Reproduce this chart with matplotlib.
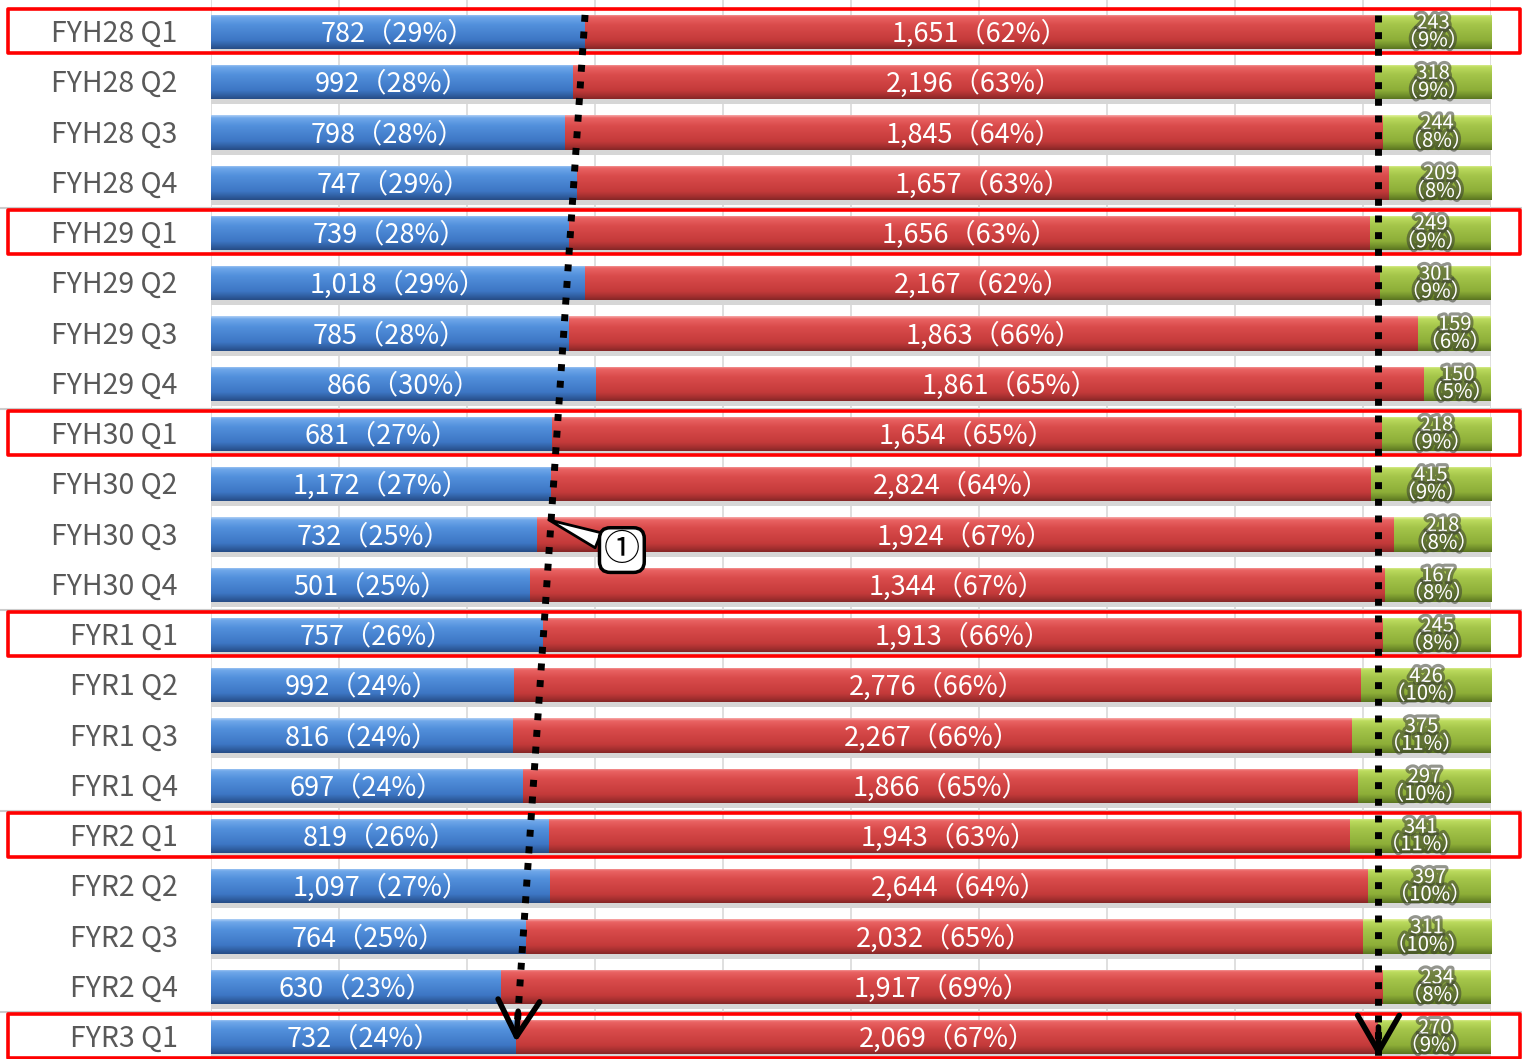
import matplotlib
matplotlib.use("Agg")
import numpy as np
import matplotlib.pyplot as plt
import matplotlib.transforms as mtransforms
import matplotlib.patheffects as pe
from matplotlib.colors import LinearSegmentedColormap
from matplotlib.patches import Rectangle
from matplotlib.lines import Line2D

plt.rcParams['font.family'] = ['Noto Sans CJK JP', 'DejaVu Sans']

categories = ["FYH28 Q1", "FYH28 Q2", "FYH28 Q3", "FYH28 Q4",
              "FYH29 Q1", "FYH29 Q2", "FYH29 Q3", "FYH29 Q4",
              "FYH30 Q1", "FYH30 Q2", "FYH30 Q3", "FYH30 Q4",
              "FYR1 Q1", "FYR1 Q2", "FYR1 Q3", "FYR1 Q4",
              "FYR2 Q1", "FYR2 Q2", "FYR2 Q3", "FYR2 Q4",
              "FYR3 Q1"]
blue_vals = [782, 992, 798, 747, 739, 1018, 785, 866, 681, 1172, 732, 501,
             757, 992, 816, 697, 819, 1097, 764, 630, 732]
red_vals = [1651, 2196, 1845, 1657, 1656, 2167, 1863, 1861, 1654, 2824, 1924, 1344,
            1913, 2776, 2267, 1866, 1943, 2644, 2032, 1917, 2069]
green_vals = [243, 318, 244, 209, 249, 301, 159, 150, 218, 415, 218, 167,
              245, 426, 375, 297, 341, 397, 311, 234, 270]

b = np.array(blue_vals, float)
r = np.array(red_vals, float)
g = np.array(green_vals, float)
tot = b + r + g
fb, fr, fg = b / tot, r / tot, g / tot
n = len(categories)
y = np.arange(n)

W, H = 1522, 1059
fig = plt.figure(figsize=(W / 100, H / 100), dpi=100)
ax = fig.add_axes([211 / W, 0, 1280 / W, 1])

BH = 0.68


def pct(v):
    return int(np.floor(v * 100 + 0.5))


def grad_fill(patches, stops):
    cmap = LinearSegmentedColormap.from_list("g", stops)
    arr = np.linspace(0, 1, 256).reshape(-1, 1)
    for p in patches:
        x0, y0 = p.get_x(), p.get_y()
        w, h = p.get_width(), p.get_height()
        im = ax.imshow(arr, cmap=cmap, extent=[x0, x0 + w, y0 + h, y0],
                       aspect="auto", origin="upper", zorder=2.5,
                       interpolation="bilinear")
        im.set_clip_path(p)


# shadows
ax.barh(y + 0.1, np.ones(n), height=BH, color="#d6d6d6", zorder=1)

bars_b = ax.barh(y, fb, height=BH, color="#4a86d2", zorder=2)
bars_r = ax.barh(y, fr, left=fb, height=BH, color="#d04444", zorder=2)
bars_g = ax.barh(y, fg, left=fb + fr, height=BH, color="#98b840", zorder=2)

grad_fill(bars_b, [(0, "#b0d0f5"), (0.08, "#70a8ea"), (0.3, "#5290dc"),
                   (0.75, "#3d76c4"), (0.9, "#2f5d9f"), (1, "#264c85")])
grad_fill(bars_r, [(0, "#f8aaaa"), (0.08, "#ea6464"), (0.3, "#da4c4c"),
                   (0.75, "#c43a3a"), (0.9, "#a22f2f"), (1, "#842626")])
grad_fill(bars_g, [(0, "#e4f2a0"), (0.08, "#bcdb5e"), (0.3, "#a4c54a"),
                   (0.75, "#8dae38"), (0.9, "#6f8d2a"), (1, "#5a7420")])

# labels
for i in range(n):
    ax.text(fb[i] / 2, i + 0.04, f"{blue_vals[i]:,}（{pct(fb[i])}%）", ha="center",
            va="center", color="white", fontsize=19.5, zorder=5)
    ax.text(fb[i] + fr[i] / 2, i + 0.04, f"{red_vals[i]:,}（{pct(fr[i])}%）", ha="center",
            va="center", color="white", fontsize=19.5, zorder=5)
    ax.text(fb[i] + fr[i] + fg[i] / 2, i + 0.0, f"{green_vals[i]:,}\n（{pct(fg[i])}%）",
            ha="center", va="center", color="white", fontsize=14.5, linespacing=0.78,
            zorder=5,
            path_effects=[pe.withStroke(linewidth=4.5, foreground="#3a3f30", alpha=0.55)])

ax.set_xlim(0, 1)
ax.set_ylim((H - 32) / 50.25, -32 / 50.25)
ax.set_xticks(np.arange(0, 1.001, 0.1))
ax.set_xticklabels([])
ax.grid(axis="x", color="#d9d9d9", lw=1.2, zorder=0)
ax.set_axisbelow(True)
ax.set_yticks(y - 0.03)
ax.set_yticklabels(categories, fontsize=20.5, color="#595959")
ax.tick_params(axis="both", length=0)
ax.tick_params(axis="y", pad=24)
for s in ax.spines.values():
    s.set_visible(False)

trans = mtransforms.blended_transform_factory(fig.transFigure, ax.transData)
# year separators
for yy in [3.5, 7.5, 11.5, 15.5, 19.5]:
    ax.add_line(Line2D([0, 1], [yy, yy], transform=trans, color="#cccccc",
                       lw=1.5, clip_on=False, zorder=0.5))

# red boxes around Q1 rows
for i, c in enumerate(categories):
    if c.endswith("Q1"):
        ax.add_patch(Rectangle((8 / W, i - 0.45), (1520 - 8) / W, 0.86,
                               transform=trans, fill=False, ec="#ff0000", lw=2.6,
                               clip_on=False, zorder=6, joinstyle="round"))

# dotted arrows
dot = (0, (1, 1.4))
lx0, ly0 = fb[0], -0.34
lx1, ly1 = fb[-1], 20.1
ax.plot([lx0, lx1], [ly0, ly1], color="black", lw=5, linestyle=dot,
        dash_capstyle="butt", zorder=7)
ax.annotate("", xy=(lx1, ly1), xytext=(lx1 + (lx0 - lx1) * 0.03, ly1 - (ly1 - ly0) * 0.03),
            arrowprops=dict(arrowstyle="->,head_length=1.3,head_width=0.75", lw=4,
                            color="black", mutation_scale=20, shrinkA=0, shrinkB=0),
            zorder=7)

rx = 1 - fg[-1]
ry0, ry1 = -0.34, 20.4
ax.plot([rx, rx], [ry0, ry1], color="black", lw=5, linestyle=dot,
        dash_capstyle="butt", zorder=7)
ax.annotate("", xy=(rx, ry1), xytext=(rx, ry1 - 0.6),
            arrowprops=dict(arrowstyle="->,head_length=1.3,head_width=0.75", lw=4,
                            color="black", mutation_scale=20, shrinkA=0, shrinkB=0),
            zorder=7)

# callout ①
ax.annotate("①", xy=(0.264, 9.71), xytext=(0.321, 10.31), ha="center", va="center",
            fontsize=26, color="black", zorder=8,
            bbox=dict(boxstyle="round,pad=0.12,rounding_size=0.3", fc="white", ec="black", lw=2.5),
            arrowprops=dict(arrowstyle="wedge,tail_width=0.45", fc="white", ec="black", lw=2,
                            shrinkA=0, shrinkB=0))

fig.savefig("out.png", dpi=100)
